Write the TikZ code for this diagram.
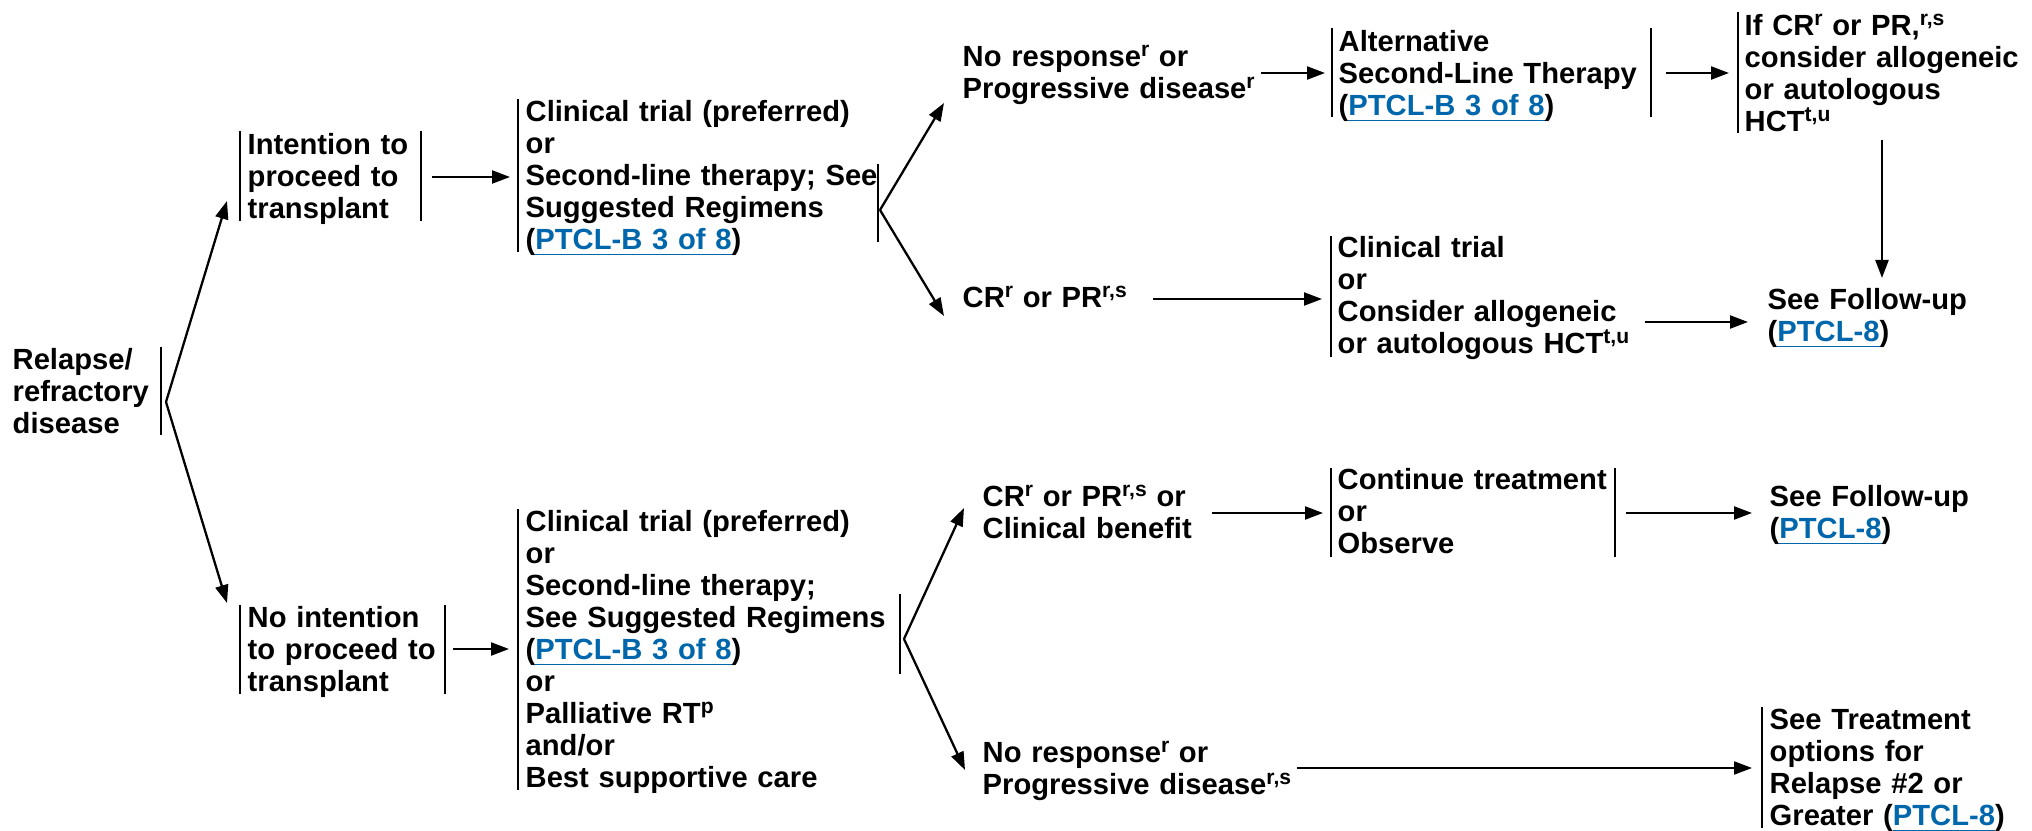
\documentclass[tikz,border=0pt]{standalone}
\usepackage{fontspec}
\setmainfont{Liberation Sans}
\usetikzlibrary{arrows.meta}
\definecolor{linkblue}{RGB}{0,103,172}
% footnote markers and cross-reference links (underlined in link colour)
\newcommand\fnote[1]{\raisebox{2.9pt}{\fontsize{6}{6}\selectfont #1}}
\newsavebox\linkbox
\newcommand\reflink[1]{\begingroup\color{linkblue}%
  \sbox\linkbox{#1}\rlap{\rule[-1.5pt]{\wd\linkbox}{0.45pt}}\usebox\linkbox\endgroup}
\lineskiplimit=-10pt

\begin{document}
\begin{tikzpicture}[x=0.1mm,y=-0.1mm,
  txt/.style={anchor=base west, inner sep=0pt, text width=45mm, align=left,
    font=\fontsize{8.3}{9.1}\selectfont\bfseries},
  bar/.style={line width=0.6pt},
  arr/.style={line width=0.65pt, -{Triangle[length=1.8mm,width=1.3mm]}}]

\fill[white] (0,0) rectangle (2032,831);
\useasboundingbox (0,0) rectangle (2032,831);

% ---------- text blocks ----------
\node[txt] (relapse) at (12,370) {Relapse/\\refractory\\disease};

\node[txt] (intent) at (247,155) {Intention to\\proceed to\\transplant};
\node[txt] (ctA) at (525,122) {Clinical trial (preferred)\\or\\Second-line therapy; See\\Suggested Regimens\\(\reflink{PTCL-B 3 of 8})};
\node[txt] (nrA) at (962,67) {No response\fnote{r} or\\Progressive disease\fnote{r}};
\node[txt] (alt) at (1338,52) {Alternative\\Second-Line Therapy\\(\reflink{PTCL-B 3 of 8})};
\node[txt] (ifcr) at (1744,36) {If CR\fnote{r} or PR,\fnote{r,s}\\consider allogeneic\\or autologous\\HCT\fnote{t,u}};
\node[txt] (crA) at (962,308) {CR\fnote{r} or PR\fnote{r,s}};
\node[txt] (ctB) at (1337,258) {Clinical trial\\or\\Consider allogeneic\\or autologous HCT\fnote{t,u}};
\node[txt] (fuA) at (1767,310) {See Follow-up\\(\reflink{PTCL-8})};

\node[txt] (nointent) at (247,628) {No intention\\to proceed to\\transplant};
\node[txt] (ctC) at (525,532) {Clinical trial (preferred)\\or\\Second-line therapy;\\See Suggested Regimens\\(\reflink{PTCL-B 3 of 8})\\or\\Palliative RT\fnote{p}\\and/or\\Best supportive care};
\node[txt] (crB) at (982,507) {CR\fnote{r} or PR\fnote{r,s} or\\Clinical benefit};
\node[txt] (cont) at (1337,490) {Continue treatment\\or\\Observe};
\node[txt] (fuB) at (1769,507) {See Follow-up\\(\reflink{PTCL-8})};
\node[txt] (nrB) at (982,763) {No response\fnote{r} or\\Progressive disease\fnote{r,s}};
\node[txt] (relapse2) at (1769,730) {See Treatment\\options for\\Relapse \#2 or\\Greater (\reflink{PTCL-8})};

% ---------- bracket bars ----------
\draw[bar] (161,347) -- (161,435);
\draw[bar] (240,131) -- (240,221);
\draw[bar] (421,131) -- (421,221);
\draw[bar] (518,99) -- (518,252);
\draw[bar] (878,164) -- (878,242);
\draw[bar] (1332,28) -- (1332,117);
\draw[bar] (1651,28) -- (1651,117);
\draw[bar] (1738,12) -- (1738,133);
\draw[bar] (1331,236) -- (1331,357);

\draw[bar] (240,605) -- (240,694);
\draw[bar] (445,605) -- (445,694);
\draw[bar] (518,509) -- (518,790);
\draw[bar] (900,594) -- (900,674);
\draw[bar] (1331,468) -- (1331,557);
\draw[bar] (1615,468) -- (1615,557);
\draw[bar] (1762,707) -- (1762,828);

% ---------- connector end points ----------
\coordinate (relFork) at (166,402);
\coordinate (intentIn) at (227,201);
\coordinate (nointentIn) at (227,603);

\coordinate (intentOut) at (432,177);
\coordinate (ctAIn) at (510,177);
\coordinate (ctAFork) at (880,210);
\coordinate (nrAIn) at (944,103);
\coordinate (crAIn) at (944,316);
\coordinate (nrAOut) at (1261,73);
\coordinate (altIn) at (1325,73);
\coordinate (altOut) at (1666,73);
\coordinate (ifcrIn) at (1729,73);
\coordinate (ifcrOut) at (1882,140);
\coordinate (fuAIn) at (1882,278);
\coordinate (crAOut) at (1153,299);
\coordinate (ctBIn) at (1322,299);
\coordinate (ctBOut) at (1645,322);
\coordinate (fuAIn2) at (1748,322);

\coordinate (nointentOut) at (453,649);
\coordinate (ctCIn) at (509,649);
\coordinate (ctCFork) at (904,639);
\coordinate (crBIn) at (964,508);
\coordinate (nrBIn) at (965,770);
\coordinate (crBOut) at (1212,513);
\coordinate (contIn) at (1323,513);
\coordinate (contOut) at (1626,513);
\coordinate (fuBIn) at (1752,513);
\coordinate (nrBOut) at (1297,768);
\coordinate (relapse2In) at (1752,768);

% ---------- connectors ----------
\draw[arr] (relFork) -- (intentIn);
\draw[arr] (relFork) -- (nointentIn);

\draw[arr] (intentOut) -- (ctAIn);
\draw[arr] (ctAFork) -- (nrAIn);
\draw[arr] (ctAFork) -- (crAIn);
\draw[arr] (nrAOut) -- (altIn);
\draw[arr] (altOut) -- (ifcrIn);
\draw[arr] (ifcrOut) -- (fuAIn);
\draw[arr] (crAOut) -- (ctBIn);
\draw[arr] (ctBOut) -- (fuAIn2);

\draw[arr] (nointentOut) -- (ctCIn);
\draw[arr] (ctCFork) -- (crBIn);
\draw[arr] (ctCFork) -- (nrBIn);
\draw[arr] (crBOut) -- (contIn);
\draw[arr] (contOut) -- (fuBIn);
\draw[arr] (nrBOut) -- (relapse2In);
\end{tikzpicture}
\end{document}
